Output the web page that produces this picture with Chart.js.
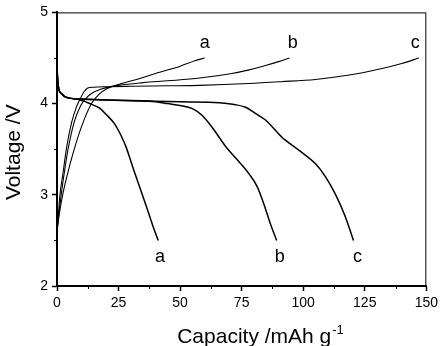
<!DOCTYPE html>
<html>
<head>
<meta charset="UTF-8">
<title>Charge / discharge curves</title>
<script src="https://cdn.jsdelivr.net/npm/chart.js"></script>
<style>
  html, body { margin: 0; padding: 0; background: #fff; }
  #wrap { width: 442px; height: 346px; }
</style>
</head>
<body>
<div id="wrap"><canvas id="chart" width="442" height="346"></canvas></div>
<script>
// charge curves (rising to 4.5 V)
const chargeA_x = [0, 1, 2.3, 4, 7, 10, 14, 17, 20, 25, 33, 40, 50, 56, 60];
const chargeA_y = [2.6, 2.8, 3.0, 3.2, 3.5, 3.75, 4.0, 4.1, 4.16, 4.21, 4.27, 4.33, 4.41, 4.47, 4.5];
const chargeB_x = [0, 0.8, 1.7, 3, 4.5, 7, 9.5, 11.2, 14, 18, 25, 35, 45, 58, 71, 78, 85, 90, 94.4];
const chargeB_y = [2.6, 2.8, 3.0, 3.25, 3.5, 3.8, 3.97, 4.04, 4.11, 4.16, 4.2, 4.23, 4.25, 4.28, 4.33, 4.37, 4.42, 4.46, 4.5];
const chargeC_x = [0, 0.6, 1.2, 2.5, 3.8, 6, 8, 9.2, 11, 12.5, 15, 20, 30, 45, 58, 78, 91, 105, 118, 132, 140, 147];
const chargeC_y = [2.6, 2.8, 3.0, 3.25, 3.5, 3.8, 3.97, 4.04, 4.13, 4.17, 4.18, 4.185, 4.19, 4.195, 4.2, 4.22, 4.24, 4.265, 4.31, 4.385, 4.44, 4.5];

// discharge curves (falling to 2.5 V)
const dischA_x = [0, 0.3, 0.8, 1.8, 3, 5, 8, 10.5, 12.5, 15, 17.3, 20, 23.3, 26, 28.1, 30.7, 33.5, 36.2, 38.8, 41.1];
const dischA_y = [4.4, 4.25, 4.15, 4.11, 4.08, 4.06, 4.05, 4.03, 4.01, 3.98, 3.95, 3.88, 3.78, 3.65, 3.52, 3.31, 3.09, 2.88, 2.67, 2.5];
const dischB_x = [0, 0.3, 0.8, 1.8, 3, 5, 10, 20, 30, 40, 45, 50, 55, 59, 63, 68.5, 74, 78, 81.3, 84, 86.7, 89.2];
const dischB_y = [4.4, 4.25, 4.15, 4.11, 4.08, 4.06, 4.05, 4.04, 4.03, 4.02, 4.0, 3.98, 3.945, 3.87, 3.74, 3.53, 3.36, 3.23, 3.09, 2.9, 2.68, 2.5];
const dischC_x = [0, 0.3, 0.8, 1.8, 3, 5, 10, 20, 35, 50, 66, 72, 76.6, 80.7, 84.7, 91.4, 98.2, 105, 109, 113, 117.1, 120.4];
const dischC_y = [4.4, 4.25, 4.15, 4.11, 4.08, 4.06, 4.05, 4.04, 4.03, 4.02, 4.01, 3.99, 3.96, 3.89, 3.82, 3.63, 3.49, 3.34, 3.2, 3.01, 2.76, 2.5];

// curve labels in data coordinates
const labelText = ['a', 'b', 'c', 'a', 'b', 'c'];
const labelX = [60, 95.8, 145.5, 41.8, 90.5, 122];
const labelY = [4.61, 4.61, 4.61, 2.26, 2.26, 2.26];

const xTicks = [0, 25, 50, 75, 100, 125, 150];
const yTicks = [2, 3, 4, 5];

const FONT = '"Liberation Sans", Arial, sans-serif';

function pts(xs, ys) {
    return xs.map((x, i) => ({ x: x, y: ys[i] }));
}

function curve(xs, ys, w) {
    return {
        data: pts(xs, ys),
        showLine: true,
        borderColor: '#000',
        borderWidth: w,
        pointRadius: 0,
        fill: false,
        cubicInterpolationMode: 'monotone'
    };
}

const extras = {
    id: 'extras',
    afterDraw(chart) {
        const ctx = chart.ctx;
        const xs = chart.scales.x, ys = chart.scales.y;
        const a = chart.chartArea;
        ctx.save();
        // frame
        ctx.strokeStyle = '#000';
        ctx.lineWidth = 1;
        ctx.strokeRect(a.left + 0.5, a.top + 0.5, a.right - a.left - 1, a.bottom - a.top);
        // minor ticks
        ctx.beginPath();
        for (let v = 12.5; v < 150; v += 25) {
            const px = Math.round(xs.getPixelForValue(v)) + 0.5;
            ctx.moveTo(px, a.bottom);
            ctx.lineTo(px, a.bottom + 3);
        }
        for (let v = 2.5; v < 5; v += 1) {
            const py = Math.round(ys.getPixelForValue(v)) + 0.5;
            ctx.moveTo(a.left, py);
            ctx.lineTo(a.left - 3, py);
        }
        ctx.stroke();
        // curve labels
        ctx.fillStyle = '#000';
        ctx.font = '18px ' + FONT;
        ctx.textAlign = 'center';
        ctx.textBaseline = 'alphabetic';
        labelText.forEach((t, i) => {
            ctx.fillText(t, xs.getPixelForValue(labelX[i]), ys.getPixelForValue(labelY[i]));
        });
        // x title with superscript
        const main = 'Capacity /mAh g';
        ctx.font = '21px ' + FONT;
        ctx.textAlign = 'left';
        const w = ctx.measureText(main).width;
        ctx.font = '13px ' + FONT;
        const ws = ctx.measureText('-1').width;
        const x0 = 260 - (w + ws) / 2;
        ctx.font = '21px ' + FONT;
        ctx.fillText(main, x0, 342.5);
        ctx.font = '13px ' + FONT;
        ctx.fillText('-1', x0 + w + 1, 334);
        // y title
        ctx.font = '21px ' + FONT;
        ctx.translate(20, (a.top + a.bottom) / 2 + 3);
        ctx.rotate(-Math.PI / 2);
        ctx.textAlign = 'center';
        ctx.fillText('Voltage /V', 0, 0);
        ctx.restore();
    }
};

new Chart(document.getElementById('chart').getContext('2d'), {
    type: 'scatter',
    data: {
        datasets: [
            curve(chargeA_x, chargeA_y, 1.1),
            curve(chargeB_x, chargeB_y, 1.1),
            curve(chargeC_x, chargeC_y, 1.1),
            curve(dischA_x, dischA_y, 1.5),
            curve(dischB_x, dischB_y, 1.5),
            curve(dischC_x, dischC_y, 1.5)
        ]
    },
    options: {
        responsive: false,
        animation: false,
        layout: { padding: { top: 12, right: 13, left: 0, bottom: 0 } },
        plugins: { legend: { display: false }, tooltip: { enabled: false } },
        scales: {
            x: {
                type: 'linear',
                min: 0, max: 150,
                afterBuildTicks: s => { s.ticks = xTicks.map(v => ({ value: v })); },
                afterFit: s => { s.height = 60; },
                border: { display: true, color: '#000', width: 2 },
                grid: { drawOnChartArea: false, drawTicks: true, tickLength: 5, color: '#000', tickWidth: 1.5 },
                ticks: { color: '#000', font: { family: FONT, size: 14 }, padding: 4, maxRotation: 0 }
            },
            y: {
                type: 'linear',
                min: 2, max: 5,
                afterBuildTicks: s => { s.ticks = yTicks.map(v => ({ value: v })); },
                afterFit: s => { s.width = 57; },
                border: { display: true, color: '#000', width: 2 },
                grid: { drawOnChartArea: false, drawTicks: true, tickLength: 5, color: '#000', tickWidth: 1.5 },
                ticks: { color: '#000', font: { family: FONT, size: 14 }, padding: 4 }
            }
        }
    },
    plugins: [extras]
});
</script>
</body>
</html>
